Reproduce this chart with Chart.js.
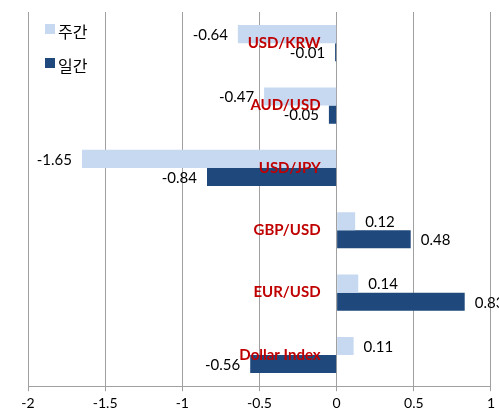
<!DOCTYPE html>
<html>
<head>
<meta charset="utf-8">
<script src="https://cdn.jsdelivr.net/npm/chart.js@4"></script>
<style>
  html, body { margin: 0; padding: 0; background: #fff; }
  #wrap { width: 499px; height: 414px; }
</style>
</head>
<body>
<div id="wrap"><canvas id="fxChart" width="499" height="414"></canvas></div>
<script>
const pairs = ["USD/KRW", "AUD/USD", "USD/JPY", "GBP/USD", "EUR/USD", "Dollar Index"];
const weekly = [-0.64, -0.47, -1.65, 0.12, 0.14, 0.11];
const daily = [-0.01, -0.05, -0.84, 0.48, 0.83, -0.56];
const seriesNames = ["주간", "일간"];
const xTicks = [-2, -1.5, -1, -0.5, 0, 0.5, 1];

// value labels next to bar ends
const valueLabels = {
  id: "valueLabels",
  afterDatasetsDraw(chart) {
    const ctx = chart.ctx;
    ctx.save();
    ctx.font = "15px Lato";
    ctx.fillStyle = "#000";
    ctx.textBaseline = "middle";
    chart.data.datasets.forEach((ds, i) => {
      chart.getDatasetMeta(i).data.forEach((bar, j) => {
        const v = ds.data[j];
        if (v < 0) {
          ctx.textAlign = "right";
          ctx.fillText(v.toFixed(2), bar.x - 10, bar.y + 1);
        } else {
          ctx.textAlign = "left";
          ctx.fillText(v.toFixed(2), bar.x + 10, bar.y + 1);
        }
      });
    });
    ctx.restore();
  }
};

// category names sit left of the zero line, on top of the bars
const pairLabels = {
  id: "pairLabels",
  afterDatasetsDraw(chart) {
    const ctx = chart.ctx;
    const x0 = chart.scales.x.getPixelForValue(0);
    ctx.save();
    ctx.font = "bold 15px Lato";
    ctx.fillStyle = "#c00000";
    ctx.textAlign = "right";
    ctx.textBaseline = "middle";
    chart.data.labels.forEach((lab, i) => {
      ctx.fillText(lab, x0 - 16, chart.scales.y.getPixelForValue(i));
    });
    ctx.restore();
  }
};

// legend inside the plot, top left
const insideLegend = {
  id: "insideLegend",
  afterDraw(chart) {
    const ctx = chart.ctx;
    ctx.save();
    ctx.font = "16px 'Noto Sans CJK KR'";
    ctx.textBaseline = "middle";
    ctx.textAlign = "left";
    chart.data.datasets.forEach((ds, i) => {
      const y = 29 + i * 34;
      ctx.fillStyle = ds.backgroundColor;
      ctx.fillRect(45, y - 5, 10, 10);
      ctx.fillStyle = "#000";
      ctx.fillText(ds.label, 58, y + 3);
    });
    ctx.restore();
  }
};

new Chart(document.getElementById("fxChart").getContext("2d"), {
  type: "bar",
  data: {
    labels: pairs,
    datasets: [
      { label: seriesNames[0], data: weekly, backgroundColor: "#c6d9f1" },
      { label: seriesNames[1], data: daily, backgroundColor: "#1f497d" }
    ]
  },
  options: {
    indexAxis: "y",
    responsive: false,
    maintainAspectRatio: false,
    animation: false,
    layout: { padding: { left: 28, right: 3, top: 12, bottom: -2 } },
    datasets: { bar: { categoryPercentage: 0.58, barPercentage: 1 } },
    plugins: {
      legend: { display: false },
      tooltip: { enabled: false }
    },
    scales: {
      x: {
        min: -2,
        max: 1,
        afterBuildTicks(scale) {
          scale.ticks = xTicks.map(v => ({ value: v }));
        },
        ticks: {
          color: "#000",
          font: { family: "Lato", size: 14 },
          padding: 4,
          maxRotation: 0,
          callback: v => String(v)
        },
        grid: { color: "#a0a0a0", tickLength: 5 },
        border: { color: "#a0a0a0" }
      },
      y: { display: false }
    }
  },
  plugins: [valueLabels, pairLabels, insideLegend]
});
</script>
</body>
</html>
